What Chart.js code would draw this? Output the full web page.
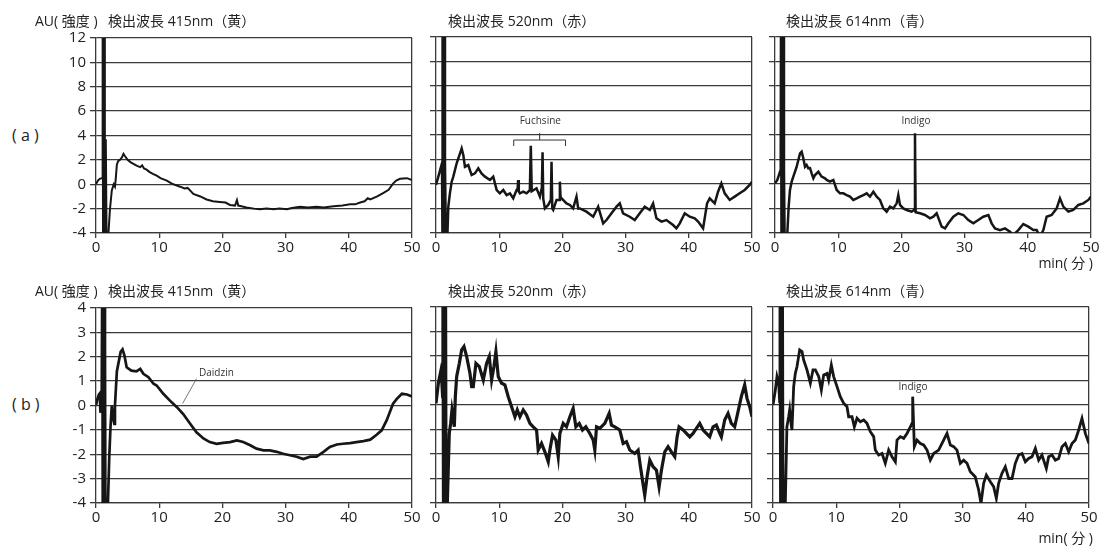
<!DOCTYPE html>
<html>
<head>
<meta charset="utf-8">
<script src="https://cdn.jsdelivr.net/npm/chart.js@4.4.0/dist/chart.umd.min.js"></script>
<style>
  body { margin: 0; background: #fff; width: 1099px; height: 548px; position: relative; overflow: hidden;
         font-family: "Open Sans", "Noto Sans CJK JP", sans-serif; color: #222; }
  canvas { position: absolute; }
  .txt { position: absolute; white-space: nowrap; font-size: 14px; line-height: 18px; }
  .row { font-size: 16px; line-height: 20px; }
</style>
</head>
<body>
<script>
// chromatogram traces, [minutes, AU]
const a415 = [[0,0.0],[0.3,0.3],[0.6,0.45],[0.9,0.5],[1.0,0.5],[1.05,14],[1.12,-6],[1.18,14],[1.25,-6],[1.32,14],[1.4,-6],[1.55,3.7],[1.7,-6],[1.9,-6],[1.95,-4.2],[2.2,-2.1],[2.5,-0.5],[2.8,0.0],[3.0,-0.2],[3.1,0.3],[3.3,1.6],[3.5,1.9],[3.8,2.0],[4.1,2.2],[4.35,2.5],[4.6,2.3],[5.0,2.0],[5.5,1.8],[6.0,1.65],[6.5,1.5],[7.0,1.4],[7.3,1.55],[7.6,1.3],[8.0,1.2],[8.5,1.0],[9.0,0.85],[9.6,0.7],[10.2,0.5],[11.2,0.3],[12.0,0.05],[13.3,-0.2],[14.0,-0.35],[14.5,-0.3],[15.4,-0.8],[16.5,-1.0],[17.5,-1.25],[18.5,-1.4],[19.6,-1.45],[20.5,-1.5],[21.2,-1.7],[22.0,-1.75],[22.3,-1.3],[22.5,-1.75],[23.0,-1.8],[23.8,-1.9],[25.0,-2.0],[25.9,-2.05],[27.0,-2.0],[28.1,-2.05],[29.0,-2.0],[30.2,-2.05],[31.0,-1.95],[32.3,-1.85],[33.5,-1.9],[34.9,-1.85],[36.0,-1.9],[37.6,-1.8],[39.0,-1.75],[40.2,-1.65],[41.0,-1.65],[41.8,-1.5],[42.5,-1.4],[43.0,-1.15],[43.4,-1.25],[44.5,-1.0],[45.5,-0.7],[46.3,-0.45],[47.0,0.05],[47.5,0.3],[48.1,0.45],[49.2,0.5],[50,0.35]];
const a520 = [[0,-0.08],[0.37,0.6],[0.74,1.3],[0.95,1.7],[1.0,14],[1.08,-6],[1.16,14],[1.24,-6],[1.32,14],[1.42,1.7],[1.6,-6],[1.8,-4.2],[1.95,-1.85],[2.2,-0.76],[2.48,0.19],[2.74,0.6],[3.27,1.69],[3.8,2.5],[4.06,2.9],[4.32,2.37],[4.58,1.41],[5.11,1.55],[5.37,1.14],[5.64,0.73],[6.16,0.87],[6.69,1.28],[7.2,0.87],[7.75,0.6],[8.54,0.33],[9.06,0.6],[9.6,-0.49],[10.1,-0.76],[10.64,-0.49],[11.17,-0.9],[11.7,-0.76],[12.22,-1.17],[12.75,-0.49],[12.9,-0.5],[13.0,0.33],[13.1,-0.6],[13.28,-0.76],[13.8,-0.63],[14.33,-0.76],[14.85,-0.5],[15.0,3.13],[15.15,-0.6],[15.9,-0.35],[16.44,-1.03],[16.75,-0.3],[16.86,2.59],[16.97,-1.2],[17.23,-1.99],[17.76,-1.71],[18.17,-1.3],[18.28,1.82],[18.4,-2.0],[18.55,-2.12],[19.07,-1.3],[19.5,-1.3],[19.6,0.19],[19.72,-1.2],[19.86,-1.17],[20.65,-1.58],[21.18,-1.71],[21.7,-1.99],[22.23,-1.03],[22.5,-1.99],[22.76,-1.99],[23.8,-2.26],[24.87,-2.67],[25.66,-1.85],[26.45,-3.21],[26.98,-2.94],[27.77,-2.39],[28.56,-1.85],[29.08,-1.58],[29.6,-2.39],[30.66,-2.67],[31.45,-2.94],[32.24,-2.39],[33.03,-1.85],[33.83,-2.12],[34.35,-1.58],[34.88,-2.8],[35.67,-3.07],[36.46,-2.94],[37.51,-3.35],[38.04,-3.62],[38.57,-3.21],[39.36,-2.39],[40.15,-2.67],[40.94,-2.8],[41.47,-3.07],[42.26,-3.62],[42.89,-1.58],[43.31,-1.17],[44.1,-1.58],[44.63,-0.63],[45.15,0.05],[45.68,-0.76],[46.47,-1.3],[47.26,-1.03],[48.05,-0.76],[48.84,-0.49],[49.63,-0.08],[50,0.19]];
const a614 = [[0,0.05],[0.37,0.33],[0.79,1.0],[0.9,1.14],[0.95,14],[1.03,-6],[1.11,14],[1.19,-6],[1.27,14],[1.42,1.1],[1.55,-6],[1.85,-6],[1.95,-4.0],[2.16,-1.85],[2.37,-0.49],[2.64,0.19],[2.9,0.6],[3.43,1.41],[3.96,2.5],[4.22,2.64],[4.48,2.1],[4.75,1.41],[5.0,1.55],[5.27,1.28],[5.54,1.3],[5.8,0.87],[6.07,0.46],[6.33,0.73],[6.86,1.0],[7.38,0.6],[7.91,0.46],[8.18,0.33],[8.7,0.19],[9.23,0.33],[9.76,-0.49],[10.28,-0.76],[10.81,-0.76],[11.34,-0.9],[11.87,-1.03],[12.39,-1.3],[12.92,-1.17],[13.45,-1.03],[13.98,-0.9],[14.5,-0.76],[15.03,-1.03],[15.56,-0.63],[16.09,-1.03],[16.61,-1.3],[17.14,-1.99],[17.67,-2.26],[18.2,-1.85],[18.72,-1.99],[19.25,-1.58],[19.51,-0.9],[19.78,-1.71],[20.3,-1.99],[20.83,-2.12],[21.62,-2.26],[22.05,-2.1],[22.15,4.14],[22.25,-2.3],[22.94,-2.39],[23.73,-2.53],[24.53,-2.8],[25.05,-2.67],[25.58,-2.39],[26.37,-3.48],[26.9,-3.62],[27.43,-3.21],[28.22,-2.67],[29.0,-2.39],[29.8,-2.53],[30.59,-2.94],[31.38,-3.21],[32.17,-2.94],[32.96,-2.67],[33.76,-2.53],[34.28,-3.21],[34.81,-3.62],[35.6,-3.76],[36.39,-3.62],[37.18,-3.89],[37.71,-4.16],[38.5,-3.76],[39.29,-3.27],[40.08,-3.48],[40.88,-3.76],[41.4,-3.76],[41.93,-4.3],[42.46,-3.76],[42.98,-2.67],[43.78,-2.53],[44.57,-1.99],[45.09,-1.17],[45.62,-1.85],[46.41,-2.26],[47.2,-2.12],[48.0,-1.71],[48.79,-1.58],[49.58,-1.3],[50,-1.03]];
const b415 = [[0,0.0],[0.2,0.25],[0.45,0.45],[0.6,0.5],[0.7,-0.3],[0.9,0.1],[1.0,6],[1.08,-6],[1.16,6],[1.24,-6],[1.32,6],[1.42,2.5],[1.5,-6],[1.7,-6],[1.9,-3.9],[2.1,-2.1],[2.3,-0.85],[2.5,0.0],[2.7,-0.5],[2.9,-0.75],[3.0,0.0],[3.3,1.4],[3.6,1.8],[3.9,2.2],[4.2,2.3],[4.5,2.05],[4.85,1.57],[5.6,1.43],[6.4,1.4],[7.0,1.5],[7.5,1.3],[8.3,1.16],[9.1,0.89],[9.6,0.82],[10.65,0.48],[11.7,0.2],[12.8,-0.07],[13.8,-0.35],[14.9,-0.75],[15.9,-1.1],[17.0,-1.35],[18.0,-1.5],[19.1,-1.57],[20.1,-1.53],[21.2,-1.5],[22.3,-1.43],[23.3,-1.5],[24.4,-1.63],[25.4,-1.77],[26.5,-1.84],[27.5,-1.84],[28.6,-1.9],[29.6,-1.98],[30.7,-2.04],[31.75,-2.1],[32.8,-2.2],[33.9,-2.1],[34.9,-2.1],[36.0,-1.9],[37.0,-1.7],[38.1,-1.6],[39.1,-1.57],[40.2,-1.54],[41.2,-1.5],[42.3,-1.46],[43.4,-1.4],[44.4,-1.2],[45.2,-1.02],[46.0,-0.6],[47.0,0.07],[47.6,0.27],[48.4,0.48],[49.2,0.45],[50,0.37]];
const b520 = [[0,0.07],[0.37,0.89],[0.74,1.36],[0.9,1.02],[1.05,0.34],[1.1,6],[1.2,-6],[1.3,6],[1.4,-6],[1.5,6],[1.6,-6],[1.75,-6],[1.79,-4.0],[2.1,-1.16],[2.32,-0.75],[2.53,-0.2],[2.74,-0.55],[2.9,-0.89],[3.06,0.34],[3.27,1.16],[3.69,1.7],[4.06,2.25],[4.43,2.39],[4.85,1.98],[5.37,1.3],[5.64,0.75],[5.9,0.75],[6.32,1.7],[6.85,1.57],[7.48,1.02],[8.0,1.7],[8.43,1.98],[8.8,1.02],[9.17,1.57],[9.48,2.18],[9.85,1.16],[10.38,0.89],[10.9,0.82],[11.43,0.34],[11.96,-0.07],[12.49,-0.48],[12.86,-0.2],[13.28,-0.48],[13.8,-0.2],[14.33,-0.41],[14.86,-0.75],[15.38,-0.89],[15.91,-1.02],[16.17,-1.84],[16.7,-1.57],[17.23,-1.91],[17.76,-2.32],[18.02,-1.84],[18.44,-1.23],[18.97,-1.43],[19.34,-2.11],[19.6,-1.16],[20.13,-0.75],[20.65,-0.89],[21.18,-0.48],[21.7,-0.14],[22.13,-0.89],[22.66,-0.75],[23.18,-1.02],[23.71,-0.89],[24.34,-1.16],[24.87,-1.43],[25.13,-1.84],[25.4,-0.89],[25.92,-0.95],[26.71,-0.75],[27.4,-0.34],[27.77,-0.82],[28.29,-0.89],[29.08,-1.02],[29.61,-1.57],[30.14,-1.5],[30.66,-1.84],[31.45,-1.98],[31.98,-1.84],[32.35,-2.52],[32.67,-3.07],[33.03,-3.68],[33.4,-2.93],[33.83,-2.25],[34.35,-2.52],[34.88,-2.66],[35.3,-3.34],[35.67,-2.66],[36.2,-1.91],[36.72,-1.7],[37.25,-1.91],[37.78,-2.11],[38.15,-1.3],[38.46,-0.89],[39.1,-1.02],[39.62,-1.16],[40.15,-1.3],[40.67,-1.16],[41.2,-0.95],[41.73,-0.75],[42.26,-1.02],[42.78,-1.16],[43.31,-1.3],[43.84,-0.89],[44.36,-0.82],[44.89,-1.16],[45.15,-1.3],[45.68,-0.61],[46.21,-0.34],[46.73,-0.75],[47.26,-0.89],[47.79,-0.27],[48.31,0.34],[48.84,0.82],[49.21,0.27],[49.63,-0.07],[50,-0.48]];
const b614 = [[0,0],[0.37,0.61],[0.63,1.16],[0.9,0.89],[1.05,0.14],[1.1,6],[1.2,-6],[1.3,6],[1.4,-6],[1.5,6],[1.6,-6],[1.8,-6],[1.95,-4.0],[2.2,-0.89],[2.48,-0.48],[2.64,-0.2],[2.85,-0.75],[3.0,-1.02],[3.27,0.75],[3.53,1.29],[3.8,1.57],[4.22,2.25],[4.59,2.18],[4.85,1.84],[5.38,1.43],[5.91,0.89],[6.33,1.43],[6.7,1.43],[7.23,1.16],[7.65,0.61],[8.02,1.23],[8.54,1.29],[8.81,1.02],[9.23,1.63],[9.6,1.16],[10.13,0.75],[10.65,0.34],[11.18,0.07],[11.71,-0.07],[11.97,-0.48],[12.5,-0.48],[12.87,-0.89],[13.29,-0.54],[13.82,-0.68],[14.35,-0.61],[14.87,-0.75],[15.4,-1.09],[15.93,-1.29],[16.19,-1.84],[16.72,-2.04],[17.25,-1.98],[17.77,-2.38],[18.3,-1.84],[18.83,-2.11],[19.36,-2.32],[19.62,-1.43],[20.15,-1.29],[20.68,-1.36],[21.2,-1.16],[21.73,-0.89],[22.0,-0.75],[22.1,0.34],[22.26,-0.9],[22.36,-1.7],[22.78,-1.43],[23.31,-1.57],[23.84,-1.63],[24.37,-1.84],[24.89,-2.25],[25.42,-1.98],[26.21,-1.84],[27.0,-1.43],[27.53,-1.16],[28.06,-1.63],[28.59,-1.7],[29.11,-1.84],[29.64,-2.38],[30.17,-2.25],[30.7,-2.38],[31.22,-2.72],[32.0,-2.93],[32.54,-3.47],[32.91,-4.02],[33.33,-3.2],[33.76,-2.86],[34.39,-3.13],[34.92,-3.34],[35.34,-3.81],[35.7,-3.2],[36.23,-2.79],[36.76,-2.52],[37.29,-3.0],[37.82,-3.0],[38.34,-2.38],[38.87,-2.04],[39.4,-1.98],[39.93,-2.32],[40.45,-2.18],[40.98,-2.11],[41.51,-1.77],[42.04,-2.25],[42.56,-2.04],[43.25,-2.59],[43.62,-2.11],[44.15,-2.04],[44.67,-2.25],[45.2,-2.18],[45.73,-1.7],[46.26,-1.57],[46.78,-1.91],[47.31,-1.57],[47.84,-1.43],[48.37,-1.02],[48.89,-0.55],[49.42,-1.16],[50,-1.57]];

// axis ranges
const xRange = [0, 50];
const yRangeA = [-4, 12];
const yRangeB = [-4, 4];

const GRID = '#3a3a3a';
const W = 316, H = 196, AXIS_W = 40, PAD_T = 12, PAD_R = 14, X_AXIS_H = 30;

const panels = [
  { data: a415, lw: 2,   left: 96,  top: 37,  y: yRangeA, step: 2, labels: true, title: '検出波長 415nm（黄）', tx: 108, notes: [] },
  { data: a520, lw: 2.5, left: 436, top: 37,  y: yRangeA, step: 2, labels: false, title: '検出波長 520nm（赤）', tx: 448,
    notes: [{ type: 'bracket', x1: 12.3, x2: 20.5, y: 3.59, yEnd: 3.1, yStem: 4.16 }, { type: 'text', x: 16.5, y: 5.14, text: 'Fuchsine' }] },
  { data: a614, lw: 2.5, left: 775, top: 37,  y: yRangeA, step: 2, labels: false, title: '検出波長 614nm（青）', tx: 786,
    notes: [{ type: 'text', x: 22.3, y: 5.14, text: 'Indigo' }] },
  { data: b415, lw: 2.7, left: 96,  top: 307, y: yRangeB, step: 1, labels: true, title: '検出波長 415nm（黄）', tx: 108,
    notes: [{ type: 'leader', x1: 15.9, y1: 1.1, x2: 13.7, y2: 0.08 }, { type: 'text', x: 16.3, y: 1.31, text: 'Daidzin', align: 'left' }] },
  { data: b520, lw: 3.2, left: 436, top: 307, y: yRangeB, step: 1, labels: false, title: '検出波長 520nm（赤）', tx: 448, notes: [] },
  { data: b614, lw: 2.8, left: 773, top: 307, y: yRangeB, step: 1, labels: false, title: '検出波長 614nm（青）', tx: 786,
    notes: [{ type: 'text', x: 22.15, y: 0.73, text: 'Indigo' }] }
];

// small labels and brackets placed in data units
function notePlugin(notes) {
  return {
    id: 'notes',
    afterDatasetsDraw(chart) {
      const { ctx, scales: { x, y } } = chart;
      ctx.save();
      ctx.strokeStyle = '#333';
      ctx.fillStyle = '#333';
      ctx.font = '10px "Open Sans"';
      ctx.textBaseline = 'middle';
      notes.forEach(n => {
        if (n.type === 'text') {
          ctx.textAlign = n.align || 'center';
          ctx.fillText(n.text, x.getPixelForValue(n.x), y.getPixelForValue(n.y));
        } else if (n.type === 'bracket') {
          const xa = x.getPixelForValue(n.x1), xb = x.getPixelForValue(n.x2);
          const yy = y.getPixelForValue(n.y), ye = y.getPixelForValue(n.yEnd);
          const xm = (xa + xb) / 2;
          ctx.lineWidth = 1;
          ctx.beginPath();
          ctx.moveTo(xa, ye); ctx.lineTo(xa, yy); ctx.lineTo(xb, yy); ctx.lineTo(xb, ye);
          ctx.moveTo(xm, yy); ctx.lineTo(xm, y.getPixelForValue(n.yStem));
          ctx.stroke();
        } else if (n.type === 'leader') {
          ctx.strokeStyle = '#555';
          ctx.lineWidth = 0.8;
          ctx.beginPath();
          ctx.moveTo(x.getPixelForValue(n.x1), y.getPixelForValue(n.y1));
          ctx.lineTo(x.getPixelForValue(n.x2), y.getPixelForValue(n.y2));
          ctx.stroke();
        }
      });
      ctx.restore();
    }
  };
}

function addText(text, left, top, cls, right) {
  const d = document.createElement('div');
  d.className = 'txt ' + (cls || '');
  d.textContent = text;
  if (right !== undefined) d.style.right = right + 'px'; else d.style.left = left + 'px';
  d.style.top = top + 'px';
  document.body.appendChild(d);
}

panels.forEach(p => {
  const cv = document.createElement('canvas');
  cv.width = W + AXIS_W + PAD_R;
  cv.height = H + PAD_T + X_AXIS_H;
  cv.style.left = (p.left - AXIS_W) + 'px';
  cv.style.top = (p.top - PAD_T) + 'px';
  document.body.appendChild(cv);

  addText(p.title, p.tx, p.top - 25);

  new Chart(cv, {
    type: 'line',
    data: {
      datasets: [{
        data: p.data,
        borderColor: '#161616',
        borderWidth: p.lw,
        pointRadius: 0,
        tension: 0
      }]
    },
    options: {
      responsive: false,
      animation: false,
      devicePixelRatio: 1,
      layout: { padding: { top: PAD_T, right: PAD_R, left: 0, bottom: 0 } },
      plugins: { legend: { display: false }, tooltip: { enabled: false } },
      scales: {
        x: {
          type: 'linear',
          min: xRange[0],
          max: xRange[1],
          ticks: { stepSize: 10, color: '#222', font: { family: 'Open Sans', size: 15 }, padding: 1, maxRotation: 0 },
          grid: {
            color: c => (c.tick && c.tick.value === xRange[1]) ? GRID : 'rgba(0,0,0,0)',
            tickColor: GRID,
            tickLength: 5,
            lineWidth: 1.3
          },
          border: { display: true, color: GRID, width: 1.3 },
          afterFit: s => { s.height = X_AXIS_H; }
        },
        y: {
          min: p.y[0],
          max: p.y[1],
          ticks: { stepSize: p.step, display: p.labels, color: '#222', font: { family: 'Open Sans', size: 15 }, padding: 4 },
          grid: { color: GRID, lineWidth: 1.3, tickLength: 6 },
          border: { display: true, color: GRID, width: 1.3 },
          afterFit: s => { s.width = AXIS_W; }
        }
      }
    },
    plugins: [notePlugin(p.notes)]
  });
});

addText('AU( 強度 )', 35, 12);
addText('AU( 強度 )', 35, 282);
addText('( a )', 12, 125, 'row');
addText('( b )', 12, 394, 'row');
addText('min( 分 )', 0, 254, '', 6);
addText('min( 分 )', 0, 529, '', 6);
</script>
</body>
</html>
